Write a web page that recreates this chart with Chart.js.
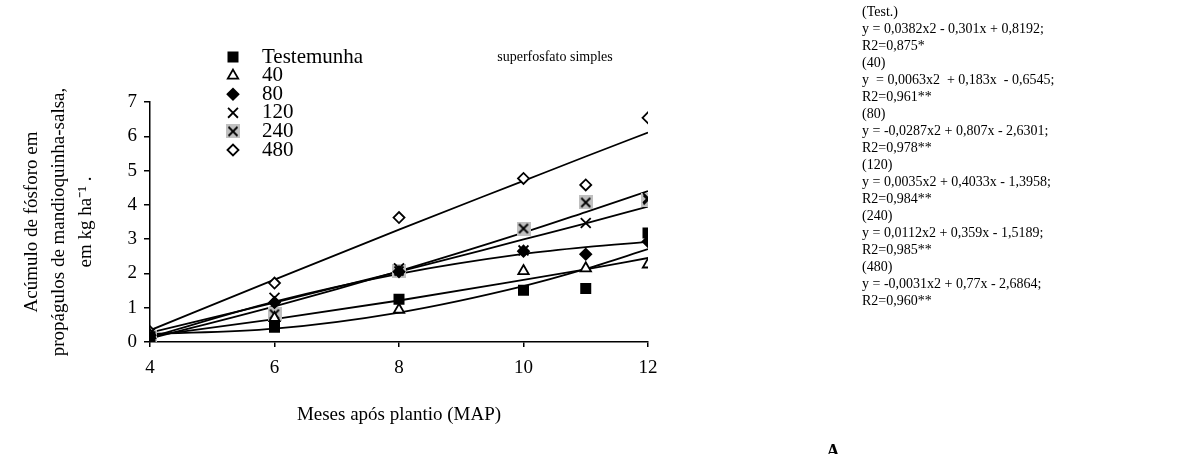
<!DOCTYPE html>
<html>
<head>
<meta charset="utf-8">
<title>Acúmulo de fósforo - superfosfato simples</title>
<script src="https://cdn.jsdelivr.net/npm/chart.js"></script>
<style>
body{margin:0;background:#fff;}
#wrap{width:1185px;height:454px;}
</style>
</head>
<body>
<div id="wrap"><canvas id="grafico" width="1185" height="454"></canvas></div>
<script>

const meses = [4, 6, 8, 10, 11, 12];

const nomes = ["Testemunha", "40", "80", "120", "240", "480"];

// pontos observados
const testemunha = [0.15, 0.43, 1.25, 1.51, 1.56, 3.18];
const dose40 = [0.2, 0.7, 0.94, 2.07, 2.15, 2.26];
const dose80 = [0.2, 1.15, 2.05, 2.65, 2.56, 2.93];
const dose120 = [0.25, 1.29, 2.15, 2.67, 3.47, 4.2];
const dose240 = [0.16, 0.81, 2.07, 3.31, 4.07, 4.15];
const dose480 = [0.3, 1.72, 3.63, 4.77, 4.58, 6.54];

// curvas ajustadas
const ajusteTest = [0.23, 0.39, 0.86, 1.63, 2.13, 2.71];
const ajuste40 = [0.18, 0.67, 1.21, 1.81, 2.12, 2.45];
const ajuste80 = [0.14, 1.18, 1.99, 2.57, 2.77, 2.92];
const ajuste120 = [0.27, 1.15, 2.05, 2.99, 3.46, 3.95];
const ajuste240 = [0.10, 1.04, 2.07, 3.19, 3.79, 4.40];
const ajuste480 = [0.34, 1.82, 3.28, 4.70, 5.41, 6.11];

const yTicks = [0, 1, 2, 3, 4, 5, 6, 7];
const xTicks = [4, 6, 8, 10, 12];

const equacoes = [
"(Test.)",
"y = 0,0382x2 - 0,301x + 0,8192;",
"R2=0,875*",
"(40)",
"y  = 0,0063x2  + 0,183x  - 0,6545;",
"R2=0,961**",
"(80)",
"y = -0,0287x2 + 0,807x - 2,6301;",
"R2=0,978**",
"(120)",
"y = 0,0035x2 + 0,4033x - 1,3958;",
"R2=0,984**",
"(240)",
"y = 0,0112x2 + 0,359x - 1,5189;",
"R2=0,985**",
"(480)",
"y = -0,0031x2 + 0,77x - 2,6864;",
"R2=0,960**"
];

const serif = '"Liberation Serif", "Times New Roman", serif';

function pares(ys){
return meses.map((m,i)=>({x:m,y:ys[i]}));
}

function marcaCinza(){
const c=document.createElement("canvas");
c.width=14;
c.height=14;
const g=c.getContext("2d");
g.fillStyle="#c0c0c0";
g.fillRect(0,0,14,14);
g.strokeStyle="#000";
g.lineWidth=1.8;
g.beginPath();
g.moveTo(2.5,2.5);g.lineTo(11.5,11.5);
g.moveTo(11.5,2.5);g.lineTo(2.5,11.5);
g.stroke();
return c;
}

function serie(label,ys,estilo,raio,fundo){
return {
label:label,
data:pares(ys),
pointStyle:estilo,
pointRadius:raio,
pointHoverRadius:raio,
backgroundColor:fundo,
borderColor:"#000",
borderWidth:1.8,
showLine:false
};
}

function curva(ys){
return {
label:"",
data:pares(ys),
showLine:true,
borderColor:"#000",
borderWidth:1.8,
pointRadius:0,
pointHoverRadius:0,
cubicInterpolationMode:"monotone",
fill:false
};
}

const pontos=[
serie(nomes[0],testemunha,"rect",6.5,"#000"),
serie(nomes[1],dose40,"triangle",6,"#fff"),
serie(nomes[2],dose80,"rectRot",5.5,"#000"),
serie(nomes[3],dose120,"crossRot",7,"#000"),
serie(nomes[4],dose240,marcaCinza(),7,"#c0c0c0"),
serie(nomes[5],dose480,"rectRot",5.5,"#fff")
];

const linhas=[ajusteTest,ajuste40,ajuste80,ajuste120,ajuste240,ajuste480].map(curva);

const textos={
id:"textos",
afterDraw(chart){
const ctx=chart.ctx;
ctx.save();
ctx.textBaseline="middle";
ctx.textAlign="left";

ctx.font="21px "+serif;
pontos.forEach((d,i)=>{
const y=57+i*18.6;
ctx.fillStyle=d.backgroundColor;
ctx.strokeStyle="#000";
ctx.lineWidth=1.8;
Chart.helpers.drawPoint(ctx,{pointStyle:d.pointStyle,radius:d.pointRadius,borderWidth:1.8,rotation:0},233,y);
ctx.fillStyle="#000";
ctx.fillText(d.label,262,y);
});

ctx.font="14px "+serif;
ctx.textAlign="center";
ctx.fillText("superfosfato simples",555,57);

ctx.textAlign="left";
ctx.font="14px "+serif;
equacoes.forEach((t,i)=>{
ctx.fillText(t,862,12+i*17);
});

ctx.font="bold 18px "+serif;
ctx.textAlign="center";
ctx.textBaseline="alphabetic";
ctx.fillText("A",833,457);

ctx.restore();
}
};

new Chart(document.getElementById("grafico"),{
type:"scatter",
data:{datasets:pontos.concat(linhas)},
options:{
responsive:false,
animation:false,
devicePixelRatio:1,
layout:{padding:{left:0,top:102,right:537,bottom:0}},
plugins:{
legend:{display:false},
tooltip:{enabled:false}
},
scales:{
x:{
type:"linear",
min:xTicks[0],
max:xTicks[xTicks.length-1],
afterBuildTicks(scale){scale.ticks=xTicks.map(v=>({value:v}));},
afterFit(scale){scale.height=112;},
ticks:{color:"#000",font:{family:serif,size:19},padding:10},
grid:{display:true,drawOnChartArea:false,drawTicks:true,tickLength:5,color:"#000",lineWidth:1.5},
border:{display:true,color:"#000",width:1.5},
title:{display:true,text:"Meses após plantio (MAP)",color:"#000",font:{family:serif,size:19},padding:{top:0,bottom:28}}
},
y:{
min:yTicks[0],
max:yTicks[yTicks.length-1],
afterBuildTicks(scale){scale.ticks=yTicks.map(v=>({value:v}));},
afterFit(scale){scale.width=150;},
ticks:{color:"#000",font:{family:serif,size:19},padding:7},
grid:{display:true,drawOnChartArea:false,drawTicks:true,tickLength:6,color:"#000",lineWidth:1.5},
border:{display:true,color:"#000",width:1.5},
title:{
display:true,
text:["Acúmulo de fósforo em","propágulos de mandioquinha-salsa,","em kg ha⁻¹ ."],
color:"#000",
font:{family:serif,size:19,lineHeight:1.42},
padding:{top:19,bottom:0}
}
}
}
},
plugins:[textos]
});

</script>
</body>
</html>
